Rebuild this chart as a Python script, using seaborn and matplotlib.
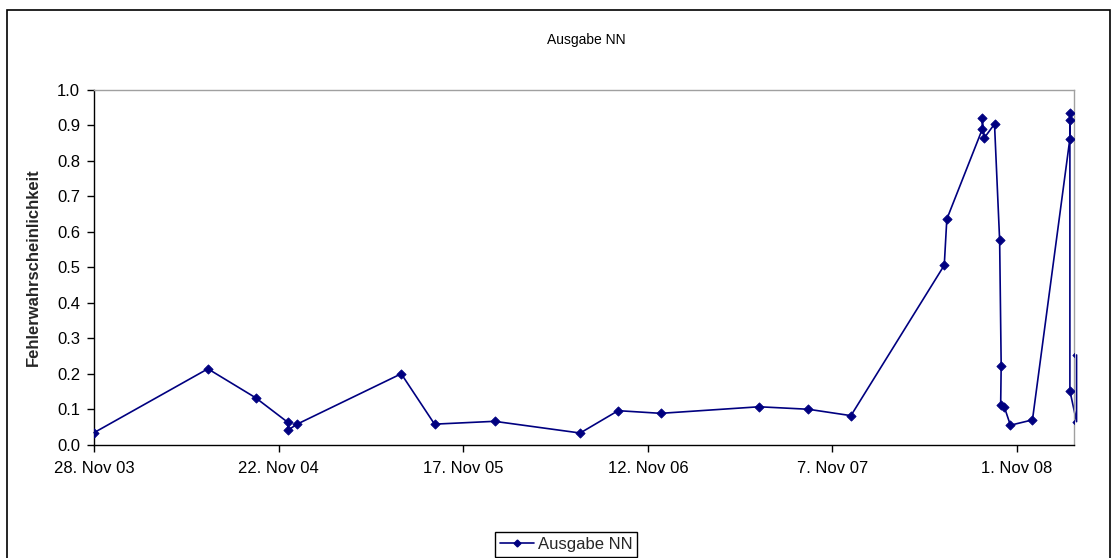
import matplotlib
matplotlib.use("Agg")
import matplotlib.pyplot as plt
import matplotlib.dates as mdates
from matplotlib.lines import Line2D
from matplotlib.patches import Rectangle
import pandas as pd
import seaborn as sns

# Measurement dates and the network output (error probability)
dates = [
    "2003-11-28", "2004-07-07", "2004-10-08", "2004-12-10", "2004-12-10",
    "2004-12-28", "2005-07-19", "2005-09-22", "2006-01-17", "2006-07-03",
    "2006-09-15", "2006-12-07", "2007-06-17", "2007-09-21", "2007-12-13",
    "2008-06-12", "2008-06-17", "2008-08-25", "2008-08-25", "2008-08-29",
    "2008-09-18", "2008-09-28", "2008-10-01", "2008-09-30", "2008-10-07",
    "2008-10-19", "2008-12-01", "2009-02-12", "2009-02-12", "2009-02-12",
    "2009-02-12", "2009-02-25", "2009-02-25",
]
values = [
    0.034, 0.214, 0.1325, 0.063, 0.041,
    0.058, 0.200, 0.058, 0.066, 0.033,
    0.096, 0.0885, 0.107, 0.100, 0.082,
    0.506, 0.636, 0.889, 0.920, 0.865,
    0.904, 0.576, 0.223, 0.112, 0.107,
    0.055, 0.070, 0.863, 0.934, 0.915,
    0.152, 0.065, 0.253,
]
series_name = "Ausgabe NN"
tick_dates = ["2003-11-28", "2004-11-22", "2005-11-17", "2006-11-12", "2007-11-07", "2008-11-01"]
tick_labels = ["28. Nov 03", "22. Nov 04", "17. Nov 05", "12. Nov 06", "7. Nov 07", "1. Nov 08"]
x_range = ["2003-11-28", "2009-02-20"]
y_ticks = [0.0, 0.1, 0.2, 0.3, 0.4, 0.5, 0.6, 0.7, 0.8, 0.9, 1.0]

NAVY = "#000080"

sns.set_theme(style="white")
plt.rcParams["font.family"] = ["Liberation Sans", "DejaVu Sans"]

fig = plt.figure(figsize=(11.17, 5.58), dpi=100)
ax = fig.add_axes([0.0842, 0.2030, 0.8773, 0.6357])

df = pd.DataFrame({"Datum": pd.to_datetime(dates), "Wert": values})

# connecting line in recorded order (not sorted by date), drawn past the frame
sns.lineplot(data=df, x="Datum", y="Wert", sort=False, estimator=None,
             color=NAVY, linewidth=1.2, ax=ax)
for ln in ax.lines:
    ln.set_clip_on(False)
# diamond markers, clipped to the plot area
sns.scatterplot(data=df, x="Datum", y="Wert", marker="D", s=22, color=NAVY,
                edgecolor=NAVY, linewidth=0.6, ax=ax, zorder=3)

ax.set_xlim(mdates.date2num(pd.Timestamp(x_range[0])), mdates.date2num(pd.Timestamp(x_range[1])))
ax.set_ylim(0, 1.0)
ax.set_xticks([mdates.date2num(pd.Timestamp(d)) for d in tick_dates])
ax.set_xticklabels(tick_labels)
ax.set_yticks(y_ticks)
ax.set_yticklabels([f"{v:.1f}" for v in y_ticks])

ax.set_xlabel("")
ax.set_ylabel("Fehlerwahrscheinlichkeit", fontsize=12, fontweight="bold")
ax.yaxis.set_label_coords(-0.054, 0.5)

for side in ("left", "bottom"):
    ax.spines[side].set_color("black")
    ax.spines[side].set_linewidth(1.0)
for side in ("top", "right"):
    ax.spines[side].set_color("#a0a0a0")
    ax.spines[side].set_linewidth(1.0)

ax.tick_params(axis="both", which="major", direction="out", length=5, width=1,
               color="black", labelsize=12, labelcolor="black",
               bottom=True, left=True)
ax.tick_params(axis="x", pad=7)
ax.tick_params(axis="y", pad=5)

fig.text(0.525, 0.928, "Ausgabe NN", ha="center", va="center", fontsize=10, color="black")

# chart-area frame
fig.patches.append(Rectangle((7 / 1117, -0.1), 1103 / 1117, 1 - 10 / 558 + 0.1,
                             transform=fig.transFigure, fill=False,
                             edgecolor="black", linewidth=1.2))

handle = Line2D([], [], color=NAVY, marker="D", markersize=3.5, linewidth=1.2)
leg = fig.legend(handles=[handle], labels=[series_name], loc="upper center",
                 bbox_to_anchor=(0.507, 1 - 532 / 558), borderaxespad=0,
                 frameon=True, fancybox=False, edgecolor="black", framealpha=1,
                 handlelength=2.0, handletextpad=0.25, borderpad=0.3, fontsize=12)
leg.get_frame().set_linewidth(1.0)

fig.savefig("out.png", dpi=100)
